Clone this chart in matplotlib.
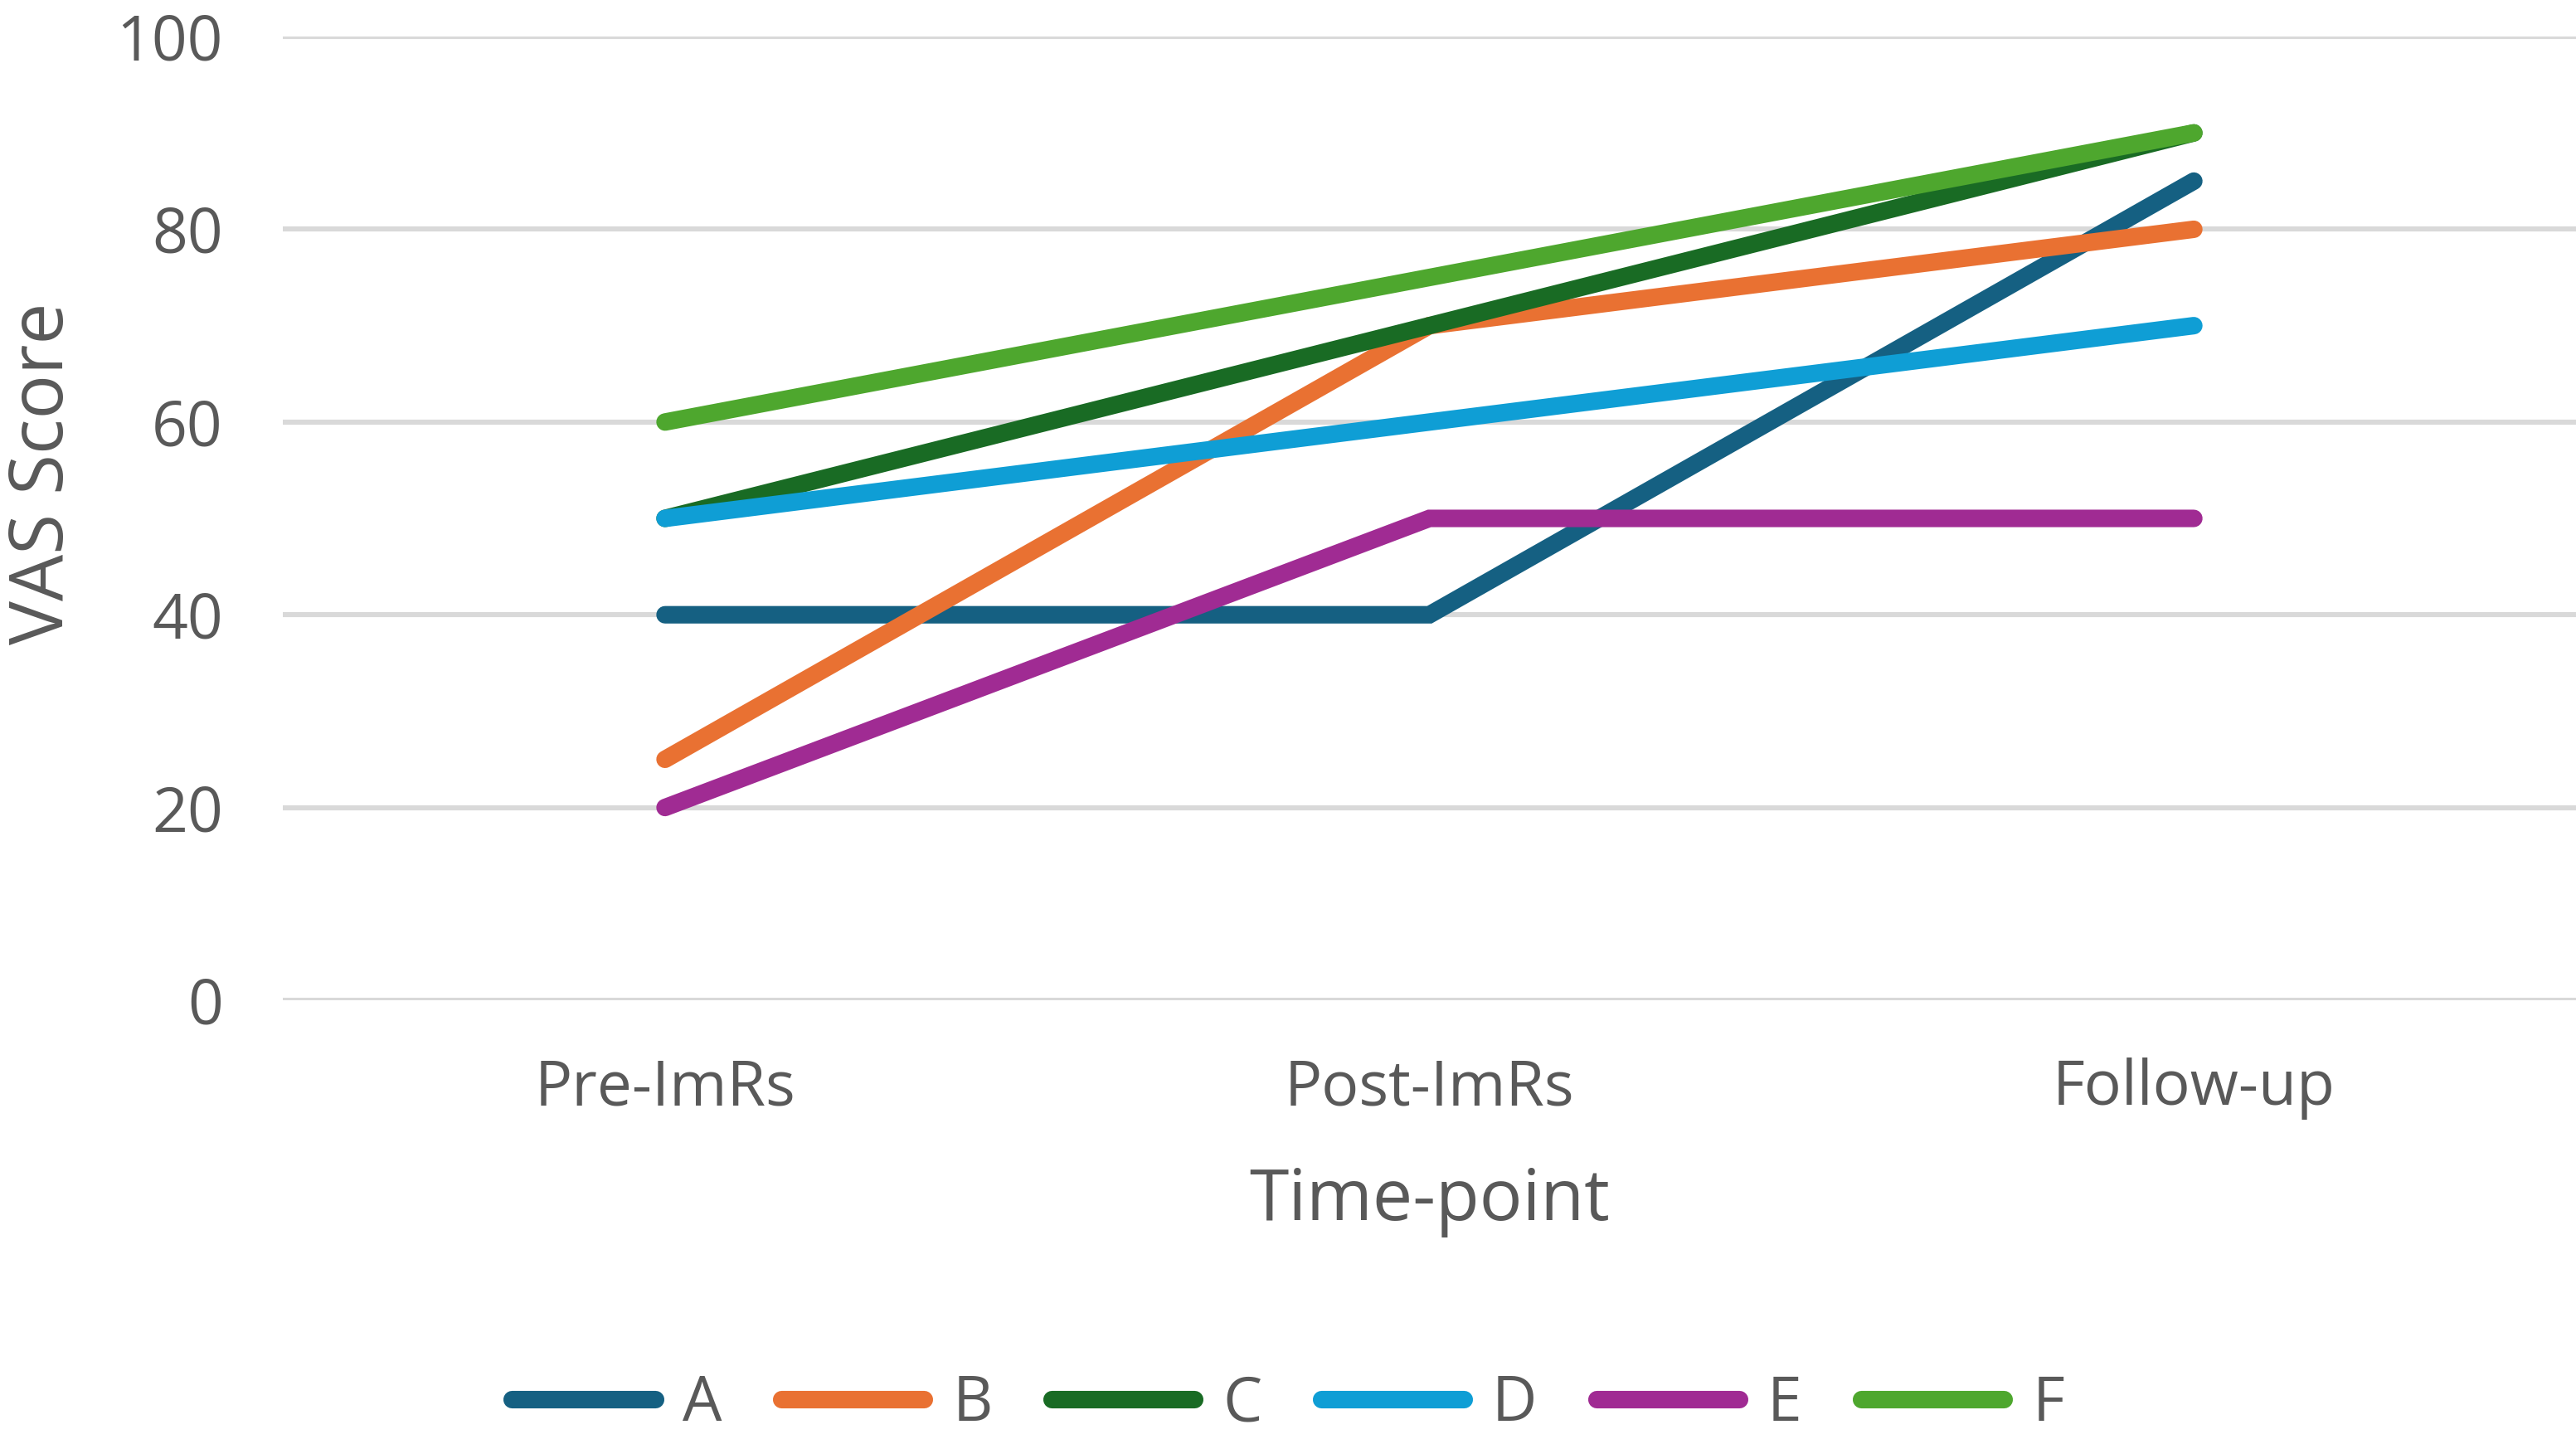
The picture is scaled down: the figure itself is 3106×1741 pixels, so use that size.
import matplotlib
matplotlib.use('Agg')
import matplotlib.pyplot as plt

# --- DATA ---
timepoints = ["Pre-ImRs", "Post-ImRs", "Follow-up"]
series_names = ["A", "B", "C", "D", "E", "F"]
A = [40, 40, 85]
B = [25, 70, 80]
C = [50, 70, 90]
D = [50, 60, 70]
E = [20, 50, 50]
F = [60, 75, 90]
series_values = [A, B, C, D, E, F]
colors = ["#156082", "#E97132", "#196B24", "#0F9ED5", "#A02B93", "#4EA72E"]

TEXT = "#595959"
plt.rcParams['font.family'] = ['Open Sans', 'DejaVu Sans']

fig = plt.figure(figsize=(15.53, 8.705), dpi=200)
ax = fig.add_axes([0.1098, 0.3073, 0.8902, 0.6674])

x = list(range(len(timepoints)))
for name, vals, col in zip(series_names, series_values, colors):
    ax.plot(x, vals, color=col, linewidth=7.6, solid_capstyle='round',
            solid_joinstyle='miter', label=name, clip_on=False, zorder=3)

ax.set_xlim(-0.5, 2.5)
ax.set_ylim(0, 100)
ax.set_yticks([0, 20, 40, 60, 80, 100])
ax.set_xticks(x)
ax.set_xticklabels(timepoints)
ax.yaxis.grid(True, color="#D9D9D9", linewidth=2.2, zorder=0)
ax.set_axisbelow(True)
for s in ax.spines.values():
    s.set_visible(False)
ax.tick_params(axis='y', length=0, pad=26, labelsize=27, labelcolor=TEXT)
ax.tick_params(axis='x', length=0, pad=25, labelsize=27, labelcolor=TEXT)

fig.text(0.5548, 0.168, "Time-point", ha='center', va='center', fontsize=31, color=TEXT)
fig.text(0.017, 0.672, "VAS Score", ha='center', va='center', rotation=90, fontsize=32, color=TEXT)

fig.legend(loc='center', bbox_to_anchor=(0.5, 0.027), ncol=6, frameon=False,
           fontsize=27, handlelength=2.3, handletextpad=0.45, columnspacing=0.95,
           labelcolor=TEXT)

fig.savefig("out.png", dpi=200)
